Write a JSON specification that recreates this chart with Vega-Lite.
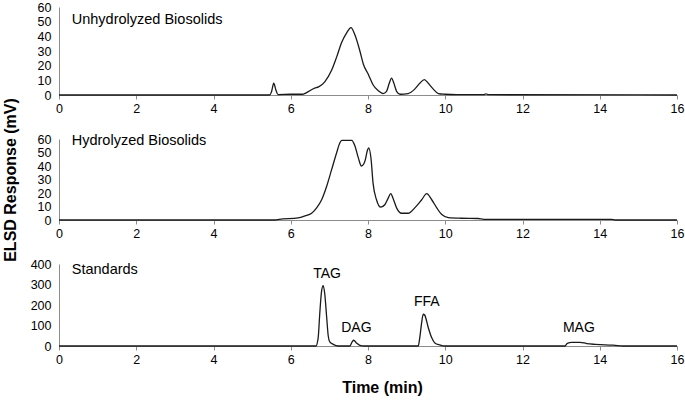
{
  "$schema": "https://vega.github.io/schema/vega-lite/v6.json",
  "padding": {"left": 2, "top": 1, "right": 2, "bottom": 2},
  "background": "white",
  "bounds": "flush",
  "spacing": 44,
  "config": {
    "view": {"stroke": null},
    "font": "Liberation Sans",
    "axis": {
      "grid": false,
      "domainColor": "#8c8c8c",
      "tickColor": "#8c8c8c",
      "labelColor": "#000000",
      "labelFont": "Liberation Sans",
      "labelFontSize": 12.5,
      "labelOverlap": false,
      "titleFont": "Liberation Sans",
      "titleFontSize": 16,
      "titleFontWeight": "bold",
      "titleColor": "#000000"
    },
    "axisX": {"tickSize": 4, "labelPadding": 3, "labelFlush": false},
    "axisY": {"ticks": false, "labelPadding": 8, "labelOverlap": false, "labelBound": false},
    "line": {"color": "#1a1a1a", "strokeWidth": 1.3, "interpolate": "monotone"},
    "text": {"font": "Liberation Sans", "fontSize": 14.5, "color": "#000000"}
  },
  "datasets": {
    "unhyd": [
      {"t": 0, "v": 0}, {"t": 5.45, "v": 0}, {"t": 5.5, "v": 2}, {"t": 5.56, "v": 8}, {"t": 5.62, "v": 3},
      {"t": 5.67, "v": 0.3}, {"t": 6.0, "v": 0.5}, {"t": 6.3, "v": 0.5}, {"t": 6.4, "v": 1.5}, {"t": 6.62, "v": 4.7},
      {"t": 6.72, "v": 5.5}, {"t": 6.88, "v": 9}, {"t": 7.06, "v": 17}, {"t": 7.19, "v": 26}, {"t": 7.32, "v": 36},
      {"t": 7.44, "v": 42}, {"t": 7.56, "v": 46}, {"t": 7.66, "v": 41}, {"t": 7.79, "v": 30}, {"t": 7.88, "v": 21},
      {"t": 8.01, "v": 14}, {"t": 8.13, "v": 7}, {"t": 8.26, "v": 3}, {"t": 8.39, "v": 1}, {"t": 8.48, "v": 2.5},
      {"t": 8.55, "v": 8}, {"t": 8.61, "v": 11.5}, {"t": 8.67, "v": 8}, {"t": 8.74, "v": 2.5}, {"t": 8.83, "v": 0.5},
      {"t": 9.04, "v": 1}, {"t": 9.21, "v": 4}, {"t": 9.34, "v": 8}, {"t": 9.46, "v": 10.5}, {"t": 9.56, "v": 8},
      {"t": 9.69, "v": 4}, {"t": 9.82, "v": 1}, {"t": 9.99, "v": 0.5}, {"t": 10.3, "v": 0.2}, {"t": 11.0, "v": 0.2},
      {"t": 11.05, "v": 0.8}, {"t": 11.12, "v": 0.2}, {"t": 16, "v": 0}
    ],
    "hyd": [
      {"t": 0, "v": 0}, {"t": 5.6, "v": 0}, {"t": 5.7, "v": 0.5}, {"t": 6.19, "v": 1.5}, {"t": 6.37, "v": 3},
      {"t": 6.54, "v": 5}, {"t": 6.67, "v": 9}, {"t": 6.8, "v": 15}, {"t": 6.93, "v": 25}, {"t": 7.06, "v": 37.5},
      {"t": 7.19, "v": 50}, {"t": 7.27, "v": 57}, {"t": 7.32, "v": 59}, {"t": 7.58, "v": 59}, {"t": 7.66, "v": 55},
      {"t": 7.75, "v": 46}, {"t": 7.83, "v": 40}, {"t": 7.92, "v": 43.5}, {"t": 7.99, "v": 52}, {"t": 8.02, "v": 53.5},
      {"t": 8.08, "v": 45}, {"t": 8.13, "v": 27.5}, {"t": 8.22, "v": 15}, {"t": 8.33, "v": 9.5}, {"t": 8.44, "v": 11.5},
      {"t": 8.52, "v": 16}, {"t": 8.59, "v": 19.5}, {"t": 8.65, "v": 16}, {"t": 8.74, "v": 9}, {"t": 8.87, "v": 5},
      {"t": 9.04, "v": 5}, {"t": 9.21, "v": 9}, {"t": 9.39, "v": 15}, {"t": 9.52, "v": 19.5}, {"t": 9.65, "v": 15},
      {"t": 9.78, "v": 9}, {"t": 9.91, "v": 4}, {"t": 10.08, "v": 1.8}, {"t": 10.4, "v": 1.3}, {"t": 10.85, "v": 1.1},
      {"t": 11.0, "v": 0.5}, {"t": 14.3, "v": 0.5}, {"t": 14.4, "v": 0}, {"t": 16, "v": 0}
    ],
    "std": [
      {"t": 0, "v": 0}, {"t": 6.65, "v": 0}, {"t": 6.71, "v": 40}, {"t": 6.75, "v": 155}, {"t": 6.8, "v": 270},
      {"t": 6.84, "v": 295}, {"t": 6.88, "v": 255}, {"t": 6.93, "v": 140}, {"t": 6.97, "v": 50}, {"t": 7.01, "v": 20},
      {"t": 7.1, "v": 8}, {"t": 7.23, "v": 0}, {"t": 7.53, "v": 0}, {"t": 7.59, "v": 20}, {"t": 7.63, "v": 28},
      {"t": 7.7, "v": 15}, {"t": 7.79, "v": 3}, {"t": 7.9, "v": 0}, {"t": 9.3, "v": 0}, {"t": 9.34, "v": 40},
      {"t": 9.39, "v": 115}, {"t": 9.43, "v": 155}, {"t": 9.47, "v": 150}, {"t": 9.56, "v": 90}, {"t": 9.65, "v": 40},
      {"t": 9.73, "v": 15}, {"t": 9.86, "v": 5}, {"t": 9.98, "v": 0}, {"t": 13.1, "v": 0}, {"t": 13.16, "v": 13},
      {"t": 13.27, "v": 18}, {"t": 13.49, "v": 18}, {"t": 13.66, "v": 12}, {"t": 13.88, "v": 8}, {"t": 14.14, "v": 5},
      {"t": 14.35, "v": 4}, {"t": 14.61, "v": 0}, {"t": 16, "v": 0}
    ],
    "names": [
      {"panel": "unhyd", "label": "Unhydrolyzed Biosolids", "t": 0.33, "v": 51},
      {"panel": "hyd", "label": "Hydrolyzed Biosolids", "t": 0.33, "v": 58.5},
      {"panel": "std", "label": "Standards", "t": 0.33, "v": 372}
    ],
    "peaks": [
      {"label": "TAG", "t": 6.94, "v": 350},
      {"label": "DAG", "t": 7.7, "v": 88},
      {"label": "FFA", "t": 9.52, "v": 213},
      {"label": "MAG", "t": 13.46, "v": 88}
    ]
  },
  "vconcat": [
    {
      "width": 618,
      "height": 88,
      "layer": [
        {
          "data": {"name": "unhyd"},
          "mark": {"type": "line"},
          "encoding": {
            "x": {"field": "t", "type": "quantitative", "scale": {"domain": [0, 16], "nice": false}, "axis": {"values": [0, 2, 4, 6, 8, 10, 12, 14, 16], "title": null}},
            "y": {"field": "v", "type": "quantitative", "scale": {"domain": [0, 60], "nice": false}, "axis": {"values": [0, 10, 20, 30, 40, 50, 60], "labelOverlap": false, "tickCount": 7, "title": null}}
          }
        },
        {
          "data": {"name": "names"},
          "transform": [{"filter": "datum.panel === 'unhyd'"}],
          "mark": {"type": "text", "align": "left", "baseline": "middle"},
          "encoding": {
            "x": {"field": "t", "type": "quantitative"},
            "y": {"field": "v", "type": "quantitative"},
            "text": {"field": "label"}
          }
        }
      ]
    },
    {
      "width": 618,
      "height": 81,
      "layer": [
        {
          "data": {"name": "hyd"},
          "mark": {"type": "line"},
          "encoding": {
            "x": {"field": "t", "type": "quantitative", "scale": {"domain": [0, 16], "nice": false}, "axis": {"values": [0, 2, 4, 6, 8, 10, 12, 14, 16], "title": null}},
            "y": {"field": "v", "type": "quantitative", "scale": {"domain": [0, 60], "nice": false}, "axis": {"values": [0, 10, 20, 30, 40, 50, 60], "labelOverlap": false, "tickCount": 7, "title": "ELSD Response (mV)", "titlePadding": 19}}
          }
        },
        {
          "data": {"name": "names"},
          "transform": [{"filter": "datum.panel === 'hyd'"}],
          "mark": {"type": "text", "align": "left", "baseline": "middle"},
          "encoding": {
            "x": {"field": "t", "type": "quantitative"},
            "y": {"field": "v", "type": "quantitative"},
            "text": {"field": "label"}
          }
        }
      ]
    },
    {
      "width": 618,
      "height": 82,
      "layer": [
        {
          "data": {"name": "std"},
          "mark": {"type": "line"},
          "encoding": {
            "x": {"field": "t", "type": "quantitative", "scale": {"domain": [0, 16], "nice": false}, "axis": {"values": [0, 2, 4, 6, 8, 10, 12, 14, 16], "title": "Time (min)", "titlePadding": 14, "titleX": 323}},
            "y": {"field": "v", "type": "quantitative", "scale": {"domain": [0, 400], "nice": false}, "axis": {"values": [0, 100, 200, 300, 400], "labelOverlap": false, "tickCount": 5, "title": null}}
          }
        },
        {
          "data": {"name": "names"},
          "transform": [{"filter": "datum.panel === 'std'"}],
          "mark": {"type": "text", "align": "left", "baseline": "middle"},
          "encoding": {
            "x": {"field": "t", "type": "quantitative"},
            "y": {"field": "v", "type": "quantitative"},
            "text": {"field": "label"}
          }
        },
        {
          "data": {"name": "peaks"},
          "mark": {"type": "text", "align": "center", "baseline": "middle", "fontSize": 14},
          "encoding": {
            "x": {"field": "t", "type": "quantitative"},
            "y": {"field": "v", "type": "quantitative"},
            "text": {"field": "label"}
          }
        }
      ]
    }
  ]
}
